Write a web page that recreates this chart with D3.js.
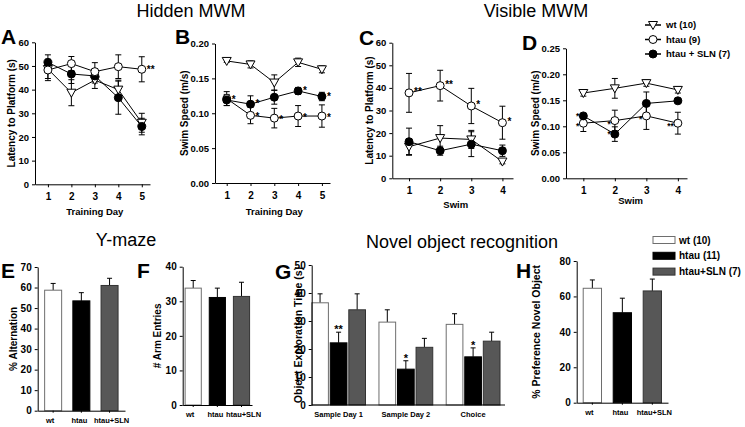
<!DOCTYPE html>
<html>
<head>
<meta charset="utf-8">
<script src="https://d3js.org/d3.v7.min.js"></script>
<style>
  body { margin: 0; background: #fff; }
  svg { font-family: "Liberation Sans", Arial, sans-serif; }
</style>
</head>
<body>
<svg id="chart" width="745" height="427"></svg>
<script>
// ---- water maze data (mean, sem) ----
var trainingDays = [1, 2, 3, 4, 5];
var swims = [1, 2, 3, 4];
var mazeGroups = ["wt (10)", "htau (9)", "htau + SLN (7)"];

var hiddenLatencyWt = [48.7, 38.7, 44.0, 40.0, 26.0];
var hiddenLatencyWtErr = [4, 5.5, 3.5, 4, 4];
var hiddenLatencyHtau = [48.3, 51.0, 47.6, 49.7, 48.6];
var hiddenLatencyHtauErr = [4.5, 3, 3.8, 5, 5.3];
var hiddenLatencySln = [51.5, 46.6, 45.8, 36.6, 24.4];
var hiddenLatencySlnErr = [3.2, 4, 3, 7, 3.5];
var hiddenLatencyHtauStars = ["", "", "", "", "**"];

var hiddenSpeedWt = [0.175, 0.170, 0.144, 0.173, 0.163];
var hiddenSpeedWtErr = [0.002, 0.005, 0.011, 0.006, 0.005];
var hiddenSpeedHtau = [0.121, 0.097, 0.093, 0.096, 0.096];
var hiddenSpeedHtauErr = [0.010, 0.012, 0.014, 0.015, 0.016];
var hiddenSpeedSln = [0.119, 0.113, 0.123, 0.132, 0.124];
var hiddenSpeedSlnErr = [0.008, 0.012, 0.010, 0.005, 0.006];
var hiddenSpeedHtauStars = ["", "*", "*", "*", "*"];
var hiddenSpeedSlnStars = ["*", "*", "", "*", "*"];

var visibleLatencyWt = [14.0, 17.8, 17.2, 7.4];
var visibleLatencyWtErr = [3.5, 5.5, 4, 1];
var visibleLatencyHtau = [37.8, 41.0, 32.0, 24.6];
var visibleLatencyHtauErr = [8.6, 6.8, 7.8, 7.3];
var visibleLatencySln = [16.2, 12.2, 15.1, 12.2];
var visibleLatencySlnErr = [6, 2, 5.5, 2.5];
var visibleLatencyHtauStars = ["**", "**", "*", "*"];

var visibleSpeedWt = [0.164, 0.173, 0.183, 0.170];
var visibleSpeedWtErr = [0.006, 0.019, 0.006, 0.006];
var visibleSpeedHtau = [0.106, 0.111, 0.120, 0.106];
var visibleSpeedHtauErr = [0.016, 0.020, 0.026, 0.021];
var visibleSpeedSln = [0.120, 0.085, 0.144, 0.149];
var visibleSpeedSlnErr = [0.004, 0.014, 0.022, 0.003];
var visibleSpeedHtauStars = ["*", "*", "*", "**"];
var visibleSpeedSlnStars = ["*", "*", "", ""];

// ---- Y-maze / novel object data ----
var barGroups = ["wt (10)", "htau (11)", "htau+SLN (7)"];
var barLabels = ["wt", "htau", "htau+SLN"];
var barColors = ["#ffffff", "#000000", "#575757"];
var barStrokes = ["#6e6e6e", "#000000", "#333333"];

var alternation = [58.7, 53.5, 61.0];
var alternationErr = [3.3, 4.0, 3.5];
var armEntries = [33.8, 31.1, 31.4];
var armEntriesErr = [2.2, 2.7, 4.1];

var novelPhases = ["Sample Day 1", "Sample Day 2", "Choice"];
var explorationWt = [36.5, 29.6, 28.8];
var explorationWtErr = [3.2, 4.4, 3.8];
var explorationHtau = [22.2, 12.8, 17.2];
var explorationHtauErr = [3.8, 3.0, 3.2];
var explorationSln = [34.0, 20.6, 22.8];
var explorationSlnErr = [5.7, 3.2, 3.2];
var explorationHtauStars = ["**", "*", "*"];

var preference = [64.6, 50.8, 63.1];
var preferenceErr = [4.7, 8.2, 6.7];

var svg = d3.select("#chart");
var fontStack = "'Liberation Sans', Arial, sans-serif";
var labelShift = [-3, -2, 2];   // category labels sit a little off the bar centres

function title(text, x, y) {
    svg.append("text").attr("x", x).attr("y", y).attr("text-anchor", "middle")
        .style("font-size", "18px").text(text);
}

function letter(text, x, y) {
    svg.append("text").attr("x", x).attr("y", y)
        .style("font-size", "21px").style("font-weight", "bold").text(text);
}

function yTitle(text, x, yMid, size) {
    svg.append("text").attr("transform", "translate(" + x + "," + yMid + ") rotate(-90)")
        .attr("text-anchor", "middle").attr("dy", "0.35em")
        .style("font-size", (size || 10) + "px").style("font-weight", "bold").text(text);
}

function xTitle(text, x, y) {
    svg.append("text").attr("x", x).attr("y", y).attr("text-anchor", "middle")
        .style("font-size", "9.5px").style("font-weight", "bold").text(text);
}

function styleAxis(sel, size) {
    sel.attr("font-family", fontStack).attr("font-size", size).attr("font-weight", "bold");
    sel.selectAll("path, line").attr("stroke", "#000");
}

// marker: "tri" open triangle down, "open" open circle, "filled" black circle
function marker(g, kind, cx, cy) {
    if (kind === "tri") {
        g.append("path")
            .attr("d", "M" + (cx - 4.5) + "," + (cy - 3.5) + "L" + (cx + 4.5) + "," + (cy - 3.5) + "L" + cx + "," + (cy + 4.5) + "Z")
            .attr("fill", "#fff").attr("stroke", "#000");
    } else {
        g.append("circle").attr("cx", cx).attr("cy", cy).attr("r", 4)
            .attr("fill", kind === "filled" ? "#000" : "#fff").attr("stroke", "#000");
    }
}

function linePanel(p) {
    var x = d3.scaleLinear().domain(p.xDomain).range([p.x0, p.x1]);
    var y = d3.scaleLinear().domain([0, p.yMax]).range([p.yBottom, p.yTop]);
    var g = svg.append("g");

    g.append("g").attr("transform", "translate(0," + p.yBottom + ")")
        .call(d3.axisBottom(x).tickValues(p.xTicks).tickFormat(d3.format("d"))
            .tickSize(3).tickPadding(6).tickSizeOuter(0))
        .call(styleAxis, 10);
    g.append("g").attr("transform", "translate(" + p.x0 + ",0)")
        .call(d3.axisLeft(y).tickValues(p.yTicks).tickFormat(d3.format(p.yFormat))
            .tickSize(3).tickPadding(3).tickSizeOuter(0))
        .call(styleAxis, 9.5);

    var line = d3.line().x(function (d, i) { return x(p.xTicks[i]); }).y(function (d) { return y(d); });

    p.series.forEach(function (s) {
        g.append("path").datum(s.values).attr("d", line)
            .attr("fill", "none").attr("stroke", "#000").attr("stroke-width", 1);
    });
    p.series.forEach(function (s) {
        s.values.forEach(function (v, i) {
            var cx = x(p.xTicks[i]), lo = y(v - s.errs[i]), hi = y(v + s.errs[i]);
            g.append("line").attr("x1", cx).attr("x2", cx).attr("y1", lo).attr("y2", hi).attr("stroke", "#000");
            g.append("line").attr("x1", cx - 3).attr("x2", cx + 3).attr("y1", lo).attr("y2", lo).attr("stroke", "#000");
            g.append("line").attr("x1", cx - 3).attr("x2", cx + 3).attr("y1", hi).attr("y2", hi).attr("stroke", "#000");
        });
    });
    p.series.forEach(function (s) {
        s.values.forEach(function (v, i) {
            marker(g, s.kind, x(p.xTicks[i]), y(v));
            if (s.stars && s.stars[i]) {
                var left = p.starSide === "left";
                g.append("text").attr("x", x(p.xTicks[i]) + (left ? -4 : 5)).attr("y", y(v) + (s.starDy || 4))
                    .attr("text-anchor", left ? "end" : "start")
                    .style("font-size", (p.starSize || 10) + "px").style("font-weight", "bold").text(s.stars[i]);
            }
        });
    });

    letter(p.letter, p.letterX, p.letterY);
    yTitle(p.yLabel, p.yLabelX, (p.yTop + p.yBottom) / 2);
    xTitle(p.xLabel, (x(p.xTicks[0]) + x(p.xTicks[p.xTicks.length - 1])) / 2, p.xLabelY);
}

function barPanel(p) {
    var x = d3.scaleBand().domain(barLabels).range([p.x0, p.x1]).paddingInner(p.padIn).paddingOuter(p.padOut);
    var y = d3.scaleLinear().domain([0, p.yMax]).range([p.yBottom, p.yTop]);
    var g = svg.append("g");

    p.values.forEach(function (v, i) {
        var bx = x(barLabels[i]), bw = x.bandwidth(), cx = bx + bw / 2;
        g.append("line").attr("x1", cx).attr("x2", cx).attr("y1", y(v)).attr("y2", y(v + p.errs[i])).attr("stroke", "#000");
        g.append("line").attr("x1", cx - 2.5).attr("x2", cx + 2.5).attr("y1", y(v + p.errs[i])).attr("y2", y(v + p.errs[i])).attr("stroke", "#000");
        g.append("rect").attr("x", bx).attr("y", y(v)).attr("width", bw).attr("height", p.yBottom - y(v))
            .attr("fill", barColors[i]).attr("stroke", barStrokes[i]);
    });

    var ax = g.append("g").attr("transform", "translate(0," + p.yBottom + ")")
        .call(d3.axisBottom(x).tickSize(2).tickPadding(5).tickSizeOuter(0))
        .call(styleAxis, 7.5);
    ax.selectAll(".tick text").attr("dx", function (d, i) { return labelShift[i]; });
    g.append("g").attr("transform", "translate(" + p.x0 + ",0)")
        .call(d3.axisLeft(y).tickValues(p.yTicks).tickSize(3).tickPadding(3).tickSizeOuter(0))
        .call(styleAxis, 10);

    letter(p.letter, p.letterX, p.letterY);
    yTitle(p.yLabel, p.yLabelX, (p.yTop + p.yBottom) / 2, p.yLabelSize);
}

function groupedPanel(p) {
    var xg = d3.scaleBand().domain(novelPhases).range([p.x0, p.groupEnd]).paddingInner(0.2).paddingOuter(0);
    var xs = d3.scaleBand().domain(barLabels).range([0, xg.bandwidth()]).paddingInner(0.1);
    var y = d3.scaleLinear().domain([0, p.yMax]).range([p.yBottom, p.yTop]);
    var g = svg.append("g");

    novelPhases.forEach(function (phase, j) {
        p.series.forEach(function (s, i) {
            var v = s.values[j], e = s.errs[j];
            var bx = xg(phase) + xs(barLabels[i]), bw = xs.bandwidth(), cx = bx + bw / 2;
            g.append("line").attr("x1", cx).attr("x2", cx).attr("y1", y(v)).attr("y2", y(v + e)).attr("stroke", "#000");
            g.append("line").attr("x1", cx - 2.5).attr("x2", cx + 2.5).attr("y1", y(v + e)).attr("y2", y(v + e)).attr("stroke", "#000");
            g.append("rect").attr("x", bx).attr("y", y(v)).attr("width", bw).attr("height", p.yBottom - y(v))
                .attr("fill", barColors[i]).attr("stroke", barStrokes[i]);
            if (s.stars && s.stars[j]) {
                g.append("text").attr("x", cx).attr("y", y(v + e) + 1).attr("text-anchor", "middle")
                    .style("font-size", "11px").style("font-weight", "bold").text(s.stars[j]);
            }
        });
    });

    var ax = g.append("g").attr("transform", "translate(0," + p.yBottom + ")")
        .call(d3.axisBottom(xg).tickSize(0).tickPadding(7))
        .call(styleAxis, 7.5);
    ax.select(".domain").attr("d", "M" + p.x0 + ",0H" + p.x1);
    g.append("g").attr("transform", "translate(" + p.x0 + ",0)")
        .call(d3.axisLeft(y).tickValues(p.yTicks).tickSize(3).tickPadding(3).tickSizeOuter(0))
        .call(styleAxis, 10);

    letter(p.letter, p.letterX, p.letterY);
    yTitle(p.yLabel, p.yLabelX, (p.yTop + p.yBottom) / 2, 10.5);
}

// ---- headings ----
title("Hidden MWM", 191, 17);
title("Visible MWM", 536, 17);
title("Y-maze", 126, 246);
title("Novel object recognition", 462, 248);

// ---- top row ----
linePanel({
    letter: "A", letterX: 1, letterY: 44,
    x0: 35, x1: 150, xDomain: [0.45, 5.35], xTicks: trainingDays,
    yTop: 42.3, yBottom: 184.3, yMax: 60, yTicks: [0, 10, 20, 30, 40, 50, 60], yFormat: "d",
    yLabel: "Latency to Platform (s)", yLabelX: 11, xLabel: "Training Day", xLabelY: 215,
    starSide: "right",
    series: [
        { kind: "tri", values: hiddenLatencyWt, errs: hiddenLatencyWtErr },
        { kind: "filled", values: hiddenLatencySln, errs: hiddenLatencySlnErr },
        { kind: "open", values: hiddenLatencyHtau, errs: hiddenLatencyHtauErr, stars: hiddenLatencyHtauStars }
    ]
});

linePanel({
    letter: "B", letterX: 175, letterY: 44,
    x0: 215, x1: 330, xDomain: [0.508, 5.34], xTicks: trainingDays,
    yTop: 43.5, yBottom: 183, yMax: 0.20, yTicks: [0, 0.05, 0.10, 0.15, 0.20], yFormat: ".2f",
    yLabel: "Swim Speed (m/s)", yLabelX: 184, xLabel: "Training Day", xLabelY: 215,
    starSide: "right",
    series: [
        { kind: "tri", values: hiddenSpeedWt, errs: hiddenSpeedWtErr },
        { kind: "open", values: hiddenSpeedHtau, errs: hiddenSpeedHtauErr, stars: hiddenSpeedHtauStars, starDy: 5 },
        { kind: "filled", values: hiddenSpeedSln, errs: hiddenSpeedSlnErr, stars: hiddenSpeedSlnStars, starDy: 3 }
    ]
});

linePanel({
    letter: "C", letterX: 359, letterY: 45,
    x0: 392.3, x1: 513, xDomain: [0.463, 4.34], xTicks: swims,
    yTop: 42.7, yBottom: 178.3, yMax: 60, yTicks: [0, 10, 20, 30, 40, 50, 60], yFormat: "d",
    yLabel: "Latency to Platform (s)", yLabelX: 369, xLabel: "Swim", xLabelY: 208,
    starSide: "right",
    series: [
        { kind: "tri", values: visibleLatencyWt, errs: visibleLatencyWtErr },
        { kind: "filled", values: visibleLatencySln, errs: visibleLatencySlnErr },
        { kind: "open", values: visibleLatencyHtau, errs: visibleLatencyHtauErr, stars: visibleLatencyHtauStars, starDy: 2 }
    ]
});

linePanel({
    letter: "D", letterX: 522, letterY: 50,
    x0: 566, x1: 687, xDomain: [0.45, 4.29], xTicks: swims,
    yTop: 48.3, yBottom: 178.3, yMax: 0.25, yTicks: [0, 0.05, 0.10, 0.15, 0.20, 0.25], yFormat: ".2f",
    yLabel: "Swim Speed (m/s)", yLabelX: 535, xLabel: "Swim", xLabelY: 204,
    starSide: "left", starSize: 8.5,
    series: [
        { kind: "tri", values: visibleSpeedWt, errs: visibleSpeedWtErr },
        { kind: "open", values: visibleSpeedHtau, errs: visibleSpeedHtauErr, stars: visibleSpeedHtauStars, starDy: 6 },
        { kind: "filled", values: visibleSpeedSln, errs: visibleSpeedSlnErr, stars: visibleSpeedSlnStars, starDy: 3 }
    ]
});

// line legend
var mazeKinds = ["tri", "open", "filled"];
var lg = svg.append("g");
mazeGroups.forEach(function (name, i) {
    var ly = 25 + i * 14.5;
    lg.append("line").attr("x1", 645).attr("x2", 661).attr("y1", ly).attr("y2", ly).attr("stroke", "#000").attr("stroke-width", 1.5);
    marker(lg, mazeKinds[i], 653, ly);
    lg.append("text").attr("x", 666).attr("y", ly).attr("dy", "0.35em")
        .style("font-size", "9.5px").style("font-weight", "bold").text(name);
});

// ---- bottom row ----
barPanel({
    letter: "E", letterX: 1, letterY: 278,
    x0: 37.7, x1: 125, padIn: 0.397, padOut: 0.246,
    yTop: 267, yBottom: 410.7, yMax: 70, yTicks: [0, 10, 20, 30, 40, 50, 60, 70],
    values: alternation, errs: alternationErr,
    yLabel: "% Alternation", yLabelX: 13
});

barPanel({
    letter: "F", letterX: 137, letterY: 278,
    x0: 182.7, x1: 252, padIn: 0.33, padOut: 0.1,
    yTop: 266.7, yBottom: 405, yMax: 40, yTicks: [0, 10, 20, 30, 40],
    values: armEntries, errs: armEntriesErr,
    yLabel: "# Arm Entries", yLabelX: 157
});

groupedPanel({
    letter: "G", letterX: 275, letterY: 279,
    x0: 311.7, groupEnd: 500, x1: 505,
    yTop: 265, yBottom: 405, yMax: 50, yTicks: [0, 10, 20, 30, 40, 50],
    series: [
        { values: explorationWt, errs: explorationWtErr },
        { values: explorationHtau, errs: explorationHtauErr, stars: explorationHtauStars },
        { values: explorationSln, errs: explorationSlnErr }
    ],
    yLabel: "Object Exploration Time (s)", yLabelX: 298
});

barPanel({
    letter: "H", letterX: 516, letterY: 278,
    x0: 576.7, x1: 668, padIn: 0.39, padOut: 0.217,
    yTop: 261, yBottom: 402.7, yMax: 80, yTicks: [0, 20, 40, 60, 80],
    values: preference, errs: preferenceErr,
    yLabel: "% Preference Novel Object", yLabelX: 536, yLabelSize: 10.5
});

// bar legend
var bl = svg.append("g");
barGroups.forEach(function (name, i) {
    var ly = 240 + i * 15.8;
    bl.append("rect").attr("x", 653).attr("y", ly - 3.5).attr("width", 22).attr("height", 7)
        .attr("fill", barColors[i]).attr("stroke", barStrokes[i]);
    bl.append("text").attr("x", 679).attr("y", ly).attr("dy", "0.35em")
        .style("font-size", "10px").style("font-weight", "bold").text(name);
});
</script>
</body>
</html>
